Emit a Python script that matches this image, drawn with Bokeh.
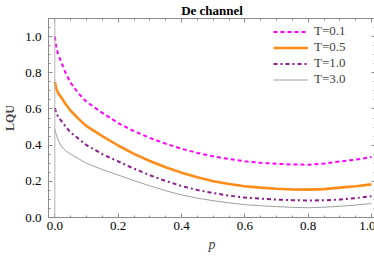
from bokeh.plotting import figure
from bokeh.models import (LinearAxis, Span, Legend, LegendItem, FixedTicker, Title, Range1d,
                          PrintfTickFormatter)
from bokeh.embed import file_html
from bokeh.resources import INLINE

p_vals = [0, .005, .01, .02, .035, .05, .075, .1, .15, .2, .25, .3, .35, .4, .45, .5,
          .55, .6, .65, .7, .75, .8, .85, .9, .95, 1.0]
lqu_T01 = [1.0, .935, .905, .86, .795, .745, .685, .64, .578, .522, .477, .44, .408, .38, .357, .338,
           .323, .311, .302, .297, .293, .292, .298, .31, .32, .334]
lqu_T05 = [.75, .71, .69, .665, .625, .59, .545, .505, .45, .398, .352, .312, .278, .248, .222, .2,
           .185, .173, .165, .159, .155, .154, .157, .165, .173, .183]
lqu_T10 = [.605, .575, .56, .535, .50, .47, .435, .40, .35, .31, .27, .234, .202, .174, .152, .135,
           .121, .11, .104, .099, .096, .094, .095, .099, .107, .118]
lqu_T30 = [.49, .455, .43, .395, .367, .35, .325, .30, .265, .235, .204, .175, .148, .125, .107, .093,
           .081, .071, .065, .06, .056, .054, .057, .062, .069, .077]
labels = ["T=0.1", "T=0.5", "T=1.0", "T=3.0"]
major_ticks = [0.0, 0.2, 0.4, 0.6, 0.8, 1.0]
minor_ticks = [round(i * 0.05, 2) for i in range(0, 23)]

FONT = "Liberation Serif"
FRAME = "#8c8c8c"
FW, FH = 327, 199

p = figure(frame_width=FW, frame_height=FH, output_backend="svg", toolbar_location=None,
           x_range=Range1d(-0.02, 1.0126), y_range=Range1d(0, 1.1),
           min_border_left=0, min_border_right=0, min_border_top=0, min_border_bottom=0,
           x_axis_location=None, y_axis_location=None)
p.background_fill_color = "white"
p.border_fill_color = "white"
p.outline_line_color = FRAME
p.outline_line_width = 1
p.xgrid.visible = False
p.ygrid.visible = False

p.title = Title(text="De channel", align="center", text_font=FONT, text_font_size="13px",
                text_font_style="bold", text_color="black", standoff=1, offset=0)

def make_axis(show_labels):
    ax = LinearAxis(ticker=FixedTicker(ticks=major_ticks, minor_ticks=minor_ticks))
    ax.major_tick_in = 4
    ax.major_tick_out = 0
    ax.minor_tick_in = 2
    ax.minor_tick_out = 0
    ax.major_tick_line_color = FRAME
    ax.minor_tick_line_color = FRAME
    ax.axis_line_color = FRAME
    ax.major_label_text_font = FONT
    ax.major_label_text_color = "black"
    ax.formatter = PrintfTickFormatter(format="%.1f")
    if show_labels:
        ax.major_label_text_font_size = "13px"
    else:
        ax.major_label_text_font_size = "1px"
        ax.major_label_text_color = None
        ax.major_label_standoff = 0
    return ax

xb = make_axis(True)
xb.major_label_standoff = 4
xb.axis_label = "p"
xb.axis_label_text_font = FONT
xb.axis_label_text_font_style = "italic"
xb.axis_label_text_font_size = "14px"
xb.axis_label_standoff = 4
p.add_layout(xb, "below")

yl = make_axis(True)
yl.major_label_standoff = 7
yl.axis_label = "LQU"
yl.axis_label_text_font = FONT
yl.axis_label_text_font_style = "bold"
yl.axis_label_text_font_size = "12px"
yl.axis_label_standoff = 5
p.add_layout(yl, "left")

xt = make_axis(False)
p.add_layout(xt, "above")
yr = make_axis(False)
p.add_layout(yr, "right")

p.add_layout(Span(location=0, dimension="height", line_color="#b4b4b4", line_width=1))

r1 = p.line(p_vals, lqu_T01, line_color="#ff00ff", line_width=2, line_dash="4 3")
r2 = p.line(p_vals, lqu_T05, line_color="#ff8c1a", line_width=2.6)
r3 = p.line(p_vals, lqu_T10, line_color="#8b1a8b", line_width=2, line_dash="4 3 2 3")
r4 = p.line(p_vals, lqu_T30, line_color="#a0a0a0", line_width=1)

ROW = 15
legend = Legend(items=[LegendItem(label=l, renderers=[r]) for l, r in zip(labels, [r1, r2, r3, r4])])
legend.border_line_color = None
legend.background_fill_alpha = 0
legend.label_text_font = FONT
legend.label_text_font_size = "13px"
legend.label_text_line_height = 1.0
legend.glyph_width = 35
legend.glyph_height = ROW
legend.label_height = ROW
legend.spacing = 0
legend.label_standoff = 6
legend.padding = 0
legend.margin = 0
legend.location = (225, FH - 9 - 4 * ROW)
p.add_layout(legend, "center")

open("out.html", "w").write(file_html(p, INLINE))
